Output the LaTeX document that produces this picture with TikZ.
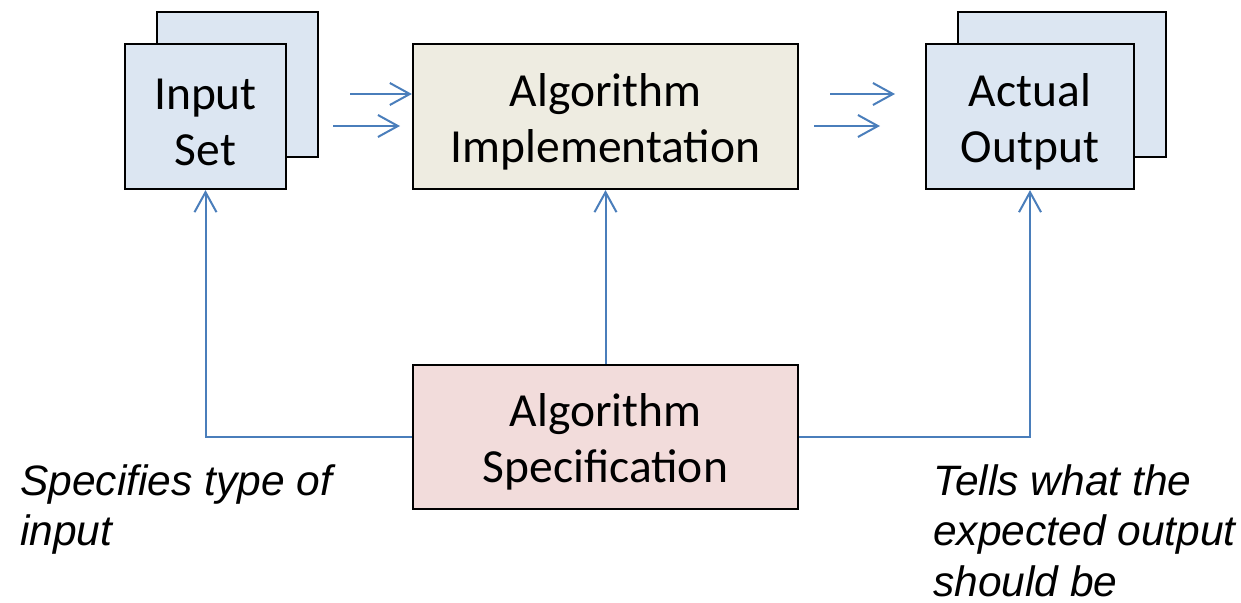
\documentclass[tikz,border=0pt]{standalone}
\usepackage{fontspec}
\setmainfont{Carlito}
\newfontfamily\notefont{Liberation Sans}
\usetikzlibrary{arrows.meta}
\definecolor{bluefill}{HTML}{DCE6F2}
\definecolor{tanfill}{HTML}{EEECE1}
\definecolor{redfill}{HTML}{F2DCDB}
\definecolor{linkblue}{HTML}{4A7EBB}
\newcommand{\toppad}{\rule{0pt}{43pt}}
\tikzset{
  box/.style={draw=black, line width=2.2pt, inner sep=0pt, align=center,
    font=\fontsize{47.5}{56}\selectfont},
  conn/.style={draw=linkblue, line width=2pt,
    -{Straight Barb[length=20pt,width=22pt,line width=2pt]}},
  note/.style={inner sep=0pt, anchor=north west, align=left,
    font=\notefont\itshape\fontsize{42.5}{50.5}\selectfont}
}
\begin{document}
\begin{tikzpicture}[x=1pt,y=-1pt]
\useasboundingbox (0,0) rectangle (1241,602);
% input stack
\node[box, fill=bluefill, minimum width=161pt, minimum height=145pt] (inb) at (237.5,84.5) {};
\node[box, fill=bluefill, minimum width=161pt, minimum height=145pt] (inf) at (205.5,116.5) {\toppad Input\\Set};
% implementation
\node[box, fill=tanfill, minimum width=385pt, minimum height=145pt] (impl) at (605.5,116.5) {\toppad Algorithm\\Implementation};
% output stack
\node[box, fill=bluefill, minimum width=208pt, minimum height=145pt] (outb) at (1062,84.5) {};
\node[box, fill=bluefill, minimum width=208pt, minimum height=145pt] (outf) at (1030,116.5) {\toppad Actual\\Output};
% specification
\node[box, fill=redfill, minimum width=385pt, minimum height=144pt] (spec) at (605.5,437) {\toppad Algorithm\\Specification};
% notes
\node[note] (n1) at (20,464) {Specifies type of\\input};
\node[note] (n2) at (933,464) {Tells what the\\expected output\\should be};
% horizontal arrows
\coordinate (a1s) at (350,94);
\coordinate (a2s) at (333,126);
\coordinate (a2e) at (400,126);
\coordinate (b1s) at (830,94);
\coordinate (b1e) at (895,94);
\coordinate (b2s) at (814,126);
\coordinate (b2e) at (880,126);
\draw[conn] (a1s) -- (a1s -| impl.west);
\draw[conn] (a2s) -- (a2e);
\draw[conn] (b1s) -- (b1e);
\draw[conn] (b2s) -- (b2e);
% connectors from specification
\draw[conn] (spec.west) -| (inf.south);
\draw[conn] (spec.north) -- (impl.south);
\draw[conn] (spec.east) -| (outf.south);
\end{tikzpicture}
\end{document}
